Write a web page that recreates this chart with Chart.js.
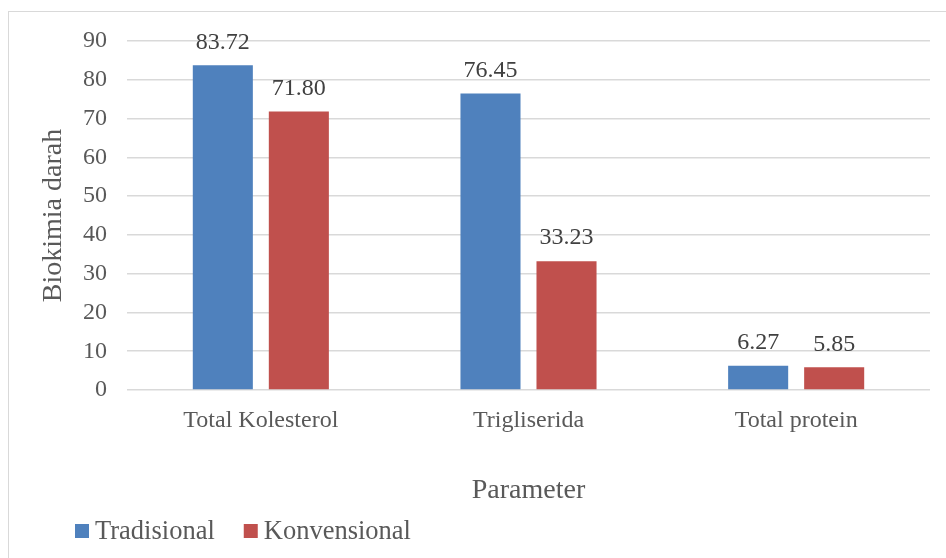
<!DOCTYPE html>
<html>
<head>
<meta charset="utf-8">
<script src="https://cdn.jsdelivr.net/npm/chart.js@4.4.0/dist/chart.umd.min.js"></script>
<style>
  html, body { margin: 0; padding: 0; background: #fff; }
  #wrap { position: relative; width: 946px; height: 558px; overflow: hidden; }
  #frame { position: absolute; left: 8px; top: 11px; width: 960px; height: 600px; border: 1px solid #d9d9d9; }
  #chart { position: absolute; left: 0; top: 0; }
</style>
</head>
<body>
<div id="wrap">
  <div id="frame"></div>
  <canvas id="chart" width="946" height="558"></canvas>
</div>
<script>
const categories = ['Total Kolesterol', 'Trigliserida', 'Total protein'];
const tradisional = [83.72, 76.45, 6.27];
const konvensional = [71.80, 33.23, 5.85];
const yTicks = [0, 10, 20, 30, 40, 50, 60, 70, 80, 90];

const FONT = '"Liberation Serif", "Times New Roman", serif';
const TEXT = '#595959';

// angka di atas batang
const valueLabels = {
  id: 'valueLabels',
  afterDatasetsDraw(chart) {
    const { ctx } = chart;
    ctx.save();
    ctx.font = '24px ' + FONT;
    ctx.fillStyle = '#404040';
    ctx.textAlign = 'center';
    ctx.textBaseline = 'middle';
    chart.data.datasets.forEach((ds, i) => {
      chart.getDatasetMeta(i).data.forEach((bar, j) => {
        ctx.fillText(ds.data[j].toFixed(2), bar.x, bar.y - 23);
      });
    });
    ctx.restore();
  }
};

// legenda di kiri bawah, seperti Excel
const bottomLegend = {
  id: 'bottomLegend',
  afterDraw(chart) {
    const { ctx } = chart;
    ctx.save();
    ctx.font = '26.5px ' + FONT;
    ctx.textBaseline = 'middle';
    let x = 75;
    const y = 531;
    chart.data.datasets.forEach(ds => {
      ctx.fillStyle = ds.backgroundColor;
      ctx.fillRect(x, y - 7, 14, 14);
      ctx.fillStyle = TEXT;
      ctx.fillText(ds.label, x + 20, y + 1);
      x += 20 + ctx.measureText(ds.label).width + 29;
    });
    ctx.restore();
  }
};

new Chart(document.getElementById('chart'), {
  type: 'bar',
  data: {
    labels: categories,
    datasets: [
      { label: 'Tradisional', data: tradisional, backgroundColor: '#4F81BD' },
      { label: 'Konvensional', data: konvensional, backgroundColor: '#C0504D' }
    ]
  },
  options: {
    responsive: false,
    animation: false,
    layout: { padding: { top: 41, right: 16, left: 37, bottom: 51 } },
    datasets: { bar: { categoryPercentage: 0.568, barPercentage: 0.79 } },
    plugins: {
      legend: { display: false },
      tooltip: { enabled: false }
    },
    scales: {
      x: {
        grid: { display: false },
        border: { display: false },
        ticks: { color: TEXT, font: { family: FONT, size: 24 }, padding: 8 },
        title: { display: true, text: 'Parameter', color: TEXT, font: { family: FONT, size: 28 }, padding: 0 },
        afterFit: axis => { axis.height = 117; }
      },
      y: {
        min: 0, max: 90,
        afterBuildTicks: axis => { axis.ticks = yTicks.map(v => ({ value: v })); },
        grid: { color: '#d9d9d9', lineWidth: 1.5, drawTicks: false },
        border: { display: false },
        ticks: { color: TEXT, font: { family: FONT, size: 24 }, padding: 20 },
        title: { display: true, text: 'Biokimia darah', color: TEXT, font: { family: FONT, size: 28 }, padding: 0 },
        afterFit: axis => { axis.width = 90; }
      }
    }
  },
  plugins: [valueLabels, bottomLegend]
});
</script>
</body>
</html>
